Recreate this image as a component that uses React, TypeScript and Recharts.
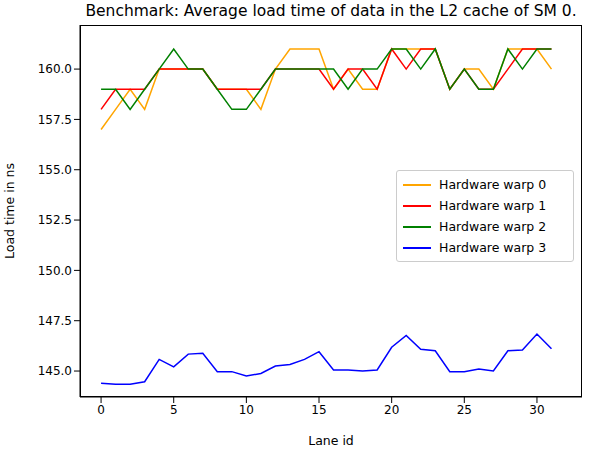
import React from 'react';
import { LineChart, Line, XAxis, YAxis } from 'recharts';

const lanes = Array.from({ length: 32 }, (_, i) => i);
const warp0 = [157, 158, 159, 158, 160, 160, 160, 160, 159, 159, 159, 158, 160, 161, 161, 161, 159, 160, 159, 159, 161, 161, 161, 161, 159, 160, 160, 159, 161, 161, 161, 160];
const warp1 = [158, 159, 159, 159, 160, 160, 160, 160, 159, 159, 159, 159, 160, 160, 160, 160, 159, 160, 160, 159, 161, 160, 161, 161, 159, 160, 159, 159, 160, 161, 161, 161];
const warp2 = [159, 159, 158, 159, 160, 161, 160, 160, 159, 158, 158, 159, 160, 160, 160, 160, 160, 159, 160, 160, 161, 161, 160, 161, 159, 160, 159, 159, 161, 160, 161, 161];
const warp3 = [144.39, 144.34, 144.34, 144.47, 145.58, 145.21, 145.84, 145.88, 144.97, 144.97, 144.75, 144.88, 145.25, 145.33, 145.58, 145.96, 145.05, 145.05, 145.0, 145.05, 146.18, 146.77, 146.08, 146.01, 144.97, 144.97, 145.1, 145.0, 146.01, 146.05, 146.84, 146.11];
const xTicks = [0, 5, 10, 15, 20, 25, 30];
const yTicks = [145, 147.5, 150, 152.5, 155, 157.5, 160];

const series = [
  { key: 'w0', name: 'Hardware warp 0', color: '#ffa500', values: warp0 },
  { key: 'w1', name: 'Hardware warp 1', color: '#ff0000', values: warp1 },
  { key: 'w2', name: 'Hardware warp 2', color: '#008000', values: warp2 },
  { key: 'w3', name: 'Hardware warp 3', color: '#0000ff', values: warp3 },
];

const data = lanes.map((lane, i) => {
  const row: Record<string, number> = { lane };
  series.forEach((s) => (row[s.key] = s.values[i]));
  return row;
});

const font = 'DejaVu Sans, sans-serif';
const tick = { fill: '#000', fontSize: 12, fontFamily: font };

export default function App() {
  return (
    <div style={{ position: 'absolute', left: 0, top: 0, width: 599, height: 455, background: '#fff' }}>
      <div style={{ position: 'absolute', top: 2, left: 60, width: 542, textAlign: 'center', fontFamily: font, fontSize: 15.5 }}>
        Benchmark: Average load time of data in the L2 cache of SM 0.
      </div>
      <LineChart width={599} height={455} data={data} margin={{ top: 25, right: 17, left: 0, bottom: 0 }}>
        <XAxis dataKey="lane" type="number" domain={[-1.45, 33.1]} ticks={xTicks} height={58} tick={tick} tickLine={{ stroke: '#000' }} axisLine={{ stroke: '#000' }}
          label={{ value: 'Lane id', position: 'insideBottom', offset: 10, fill: '#000', fontSize: 12.5, fontFamily: font }} />
        <YAxis type="number" domain={[143.71, 162.19]} ticks={yTicks} width={80} tick={tick} tickLine={{ stroke: '#000' }} axisLine={{ stroke: '#000' }}
          tickFormatter={(v: number) => v.toFixed(1)} allowDataOverflow
          label={{ value: 'Load time in ns', angle: -90, position: 'insideLeft', offset: 10, fill: '#000', fontSize: 12.5, fontFamily: font, style: { textAnchor: 'middle' } }} />
        {series.map((s) => (
          <Line key={s.key} dataKey={s.key} name={s.name} stroke={s.color} strokeWidth={1.5} dot={false} isAnimationActive={false} />
        ))}
      </LineChart>
      <div style={{ position: 'absolute', left: 80, top: 25, width: 502, height: 372, border: '1px solid #000', boxSizing: 'border-box', pointerEvents: 'none' }} />
      <div style={{ position: 'absolute', left: 396, top: 170, width: 178, border: '1px solid #ccc', borderRadius: 3, background: '#fff', padding: '3px 6px', boxSizing: 'border-box', fontFamily: font, fontSize: 12.5 }}>
        {series.map((s) => (
          <div key={s.key} style={{ display: 'flex', alignItems: 'center', height: 21 }}>
            <div style={{ width: 28, height: 2, background: s.color, marginRight: 8 }} />
            {s.name}
          </div>
        ))}
      </div>
    </div>
  );
}
